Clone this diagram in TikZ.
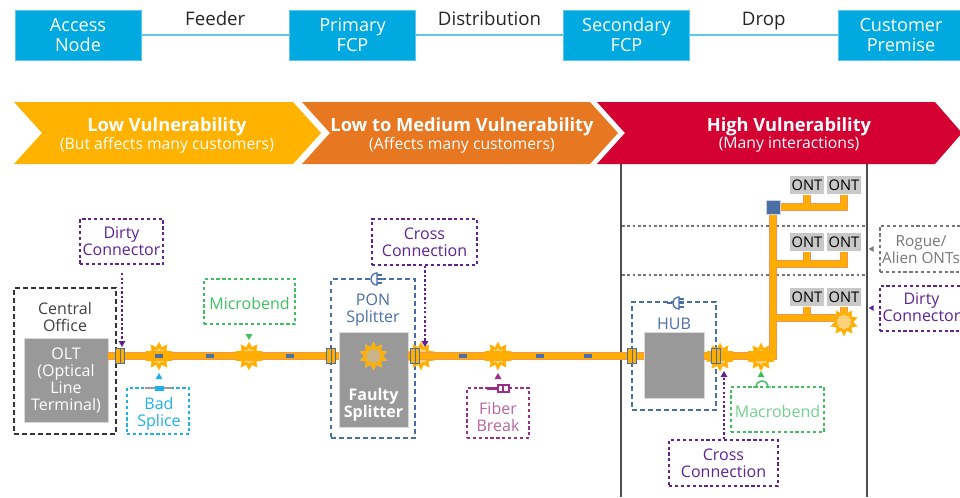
\documentclass[tikz,border=0pt]{standalone}
\usepackage{fontspec}
\setmainfont{Open Sans}
\usetikzlibrary{arrows.meta,shapes.geometric}
\definecolor{nodeblue}{HTML}{00A9E0}
\definecolor{linkblue}{HTML}{5CC6EE}
\definecolor{lowyellow}{HTML}{FFB200}
\definecolor{midorange}{HTML}{E87722}
\definecolor{highred}{HTML}{D50032}
\definecolor{fibreedge}{HTML}{F2945A}
\definecolor{fibrecore}{HTML}{FFAE00}
\definecolor{burstcore}{HTML}{FBD27A}
\definecolor{portblue}{HTML}{4A6FA5}
\definecolor{boxgrey}{HTML}{999999}
\definecolor{ontgrey}{HTML}{C8C8C8}
\definecolor{dirtypurple}{HTML}{5E2390}
\definecolor{greenbox}{HTML}{3FBF62}
\definecolor{lightgreen}{HTML}{74D08F}
\definecolor{spliceblue}{HTML}{1FB0E6}
\definecolor{breakpink}{HTML}{9B2F85}
\definecolor{breaktext}{HTML}{B565A0}
\definecolor{roguegrey}{HTML}{777777}
\newcommand{\bodyfont}{\fontsize{12}{12.75}\selectfont}
\tikzset{
	accessbox/.style={rectangle,fill=nodeblue,draw=linkblue,line width=.5pt,text=white,align=center,minimum width=94.5pt,minimum height=37.5pt,inner sep=0pt,font=\fontsize{13.6}{15}\selectfont},
	linkline/.style={linkblue,line width=1.4pt},
	linklabel/.style={midway,above=3.3pt,text height=10pt,text depth=3pt,inner sep=0pt,font=\fontsize{14}{15}\selectfont,text=black!85},
	headbig/.style={text=white,font=\fontsize{13.7}{15}\selectfont\bfseries,inner sep=0pt},
	headsmall/.style={text=white,font=\fontsize{11.8}{13}\selectfont,inner sep=0pt},
	faultbox/.style={rectangle,draw=#1,text=#1,dash pattern=on 2.4pt off 2pt,line width=1.1pt,align=center,inner sep=0pt,font=\bodyfont},
	groupbox/.style={rectangle,draw=#1,dash pattern=on 3.5pt off 2.5pt,line width=1.3pt,inner sep=0pt},
	greybox/.style={rectangle,fill=boxgrey,draw=black!15,line width=.4pt,text=white,align=center,inner sep=0pt,font=\bodyfont},
	plaintext/.style={text=#1,align=center,font=\bodyfont,inner sep=0pt},
	ontbox/.style={rectangle,fill=ontgrey,text=black,minimum width=26pt,minimum height=14pt,inner sep=0pt,font=\fontsize{11}{12}\selectfont},
	burst/.style={star,star points=10,star point ratio=1.55,fill=fibrecore,draw=fibrecore!80!white,line width=.3pt,minimum size=21pt,inner sep=0pt},
	burstin/.style={star,star points=10,star point ratio=1.3,fill=burstcore,minimum size=12pt,inner sep=0pt},
	burstbar/.style={rectangle,fill=fibrecore,minimum width=20pt,minimum height=7pt,inner sep=0pt},
	spotport/.style={rectangle,fill=portblue,minimum width=5.5pt,minimum height=3.5pt,inner sep=0pt},
	connport/.style={rectangle,fill=fibrecore,draw=portblue,line width=.8pt,minimum width=6.5pt,minimum height=11pt,inner sep=0pt,
		path picture={\draw[portblue,line width=.6pt] (path picture bounding box.north) -- (path picture bounding box.south);}},
	tipdown/.style={regular polygon,regular polygon sides=3,shape border rotate=180,fill=#1,minimum size=6pt,inner sep=0pt},
	tipup/.style={regular polygon,regular polygon sides=3,fill=#1,minimum size=6pt,inner sep=0pt},
	tipleft/.style={regular polygon,regular polygon sides=3,shape border rotate=90,fill=#1,minimum size=5pt,inner sep=0pt},
	dotline/.style={#1,dash pattern=on 1.8pt off 1.6pt,line width=1pt},
	plug/.pic={
		\draw[portblue,line width=1pt] (-9,0) -- (-4,0);
		\draw[portblue,line width=1pt,fill=white] (3,6) arc (90:270:6) -- cycle;
		\draw[portblue,line width=1pt] (3,-4) -- (8,-4) (3,0) -- (8,0) (3,4) -- (8,4);
	}
}
\begin{document}
\begin{tikzpicture}[x=.75pt,y=-.75pt]
	\useasboundingbox (0,0) rectangle (960,497);
	\clip (0,0) rectangle (960,497);

	% top row
	\foreach \name/\x/\txt in {access/78/Access\\Node,primary/352.5/Primary\\FCP,secondary/626.5/Secondary\\FCP,customer/901/Customer\\Premise}{
		\node[accessbox] (\name) at (\x,35) {\txt};
	}
	\draw[linkline] (access) -- node[linklabel] {Feeder} (primary);
	\draw[linkline] (primary) -- node[linklabel] {Distribution} (secondary);
	\draw[linkline] (secondary) -- node[linklabel] {Drop} (customer);

	% vulnerability bands
	\fill[lowyellow] (14,102) -- (293,102) -- (321,133) -- (293,164) -- (14,164) -- (42,133) -- cycle;
	\fill[midorange] (302,102) -- (590,102) -- (618,133) -- (590,164) -- (302,164) -- (330,133) -- cycle;
	\fill[highred] (597,102) -- (935,102) -- (962,133) -- (935,164) -- (597,164) -- (625,133) -- cycle;
	\node[headbig] (lowhead) at (167,127) {Low Vulnerability};
	\node[headsmall] (lowsub) at (167,145) {(But affects many customers)};
	\node[headbig] (midhead) at (462,127) {Low to Medium Vulnerability};
	\node[headsmall] (midsub) at (462,145) {(Affects many customers)};
	\node[headbig] (highhead) at (789,127) {High Vulnerability};
	\node[headsmall] (highsub) at (789,145) {(Many interactions)};

	% drop zone
	\draw[black!70,line width=1.1pt] (621,164) -- (621,497);
	\draw[black!70,line width=1.1pt] (867,164) -- (867,497);
	\draw[black!55,dash pattern=on 2pt off 2pt,line width=.9pt] (622,226) -- (865,226);
	\draw[black!55,dash pattern=on 2pt off 2pt,line width=.9pt] (622,275) -- (865,275);

	% boxes
	\node[groupbox=black!80,minimum width=76.5pt,minimum height=109.5pt] (office) at (65,361) {};
	\node[plaintext=black!75] (officetxt) at (65,316.5) {Central\\Office};
	\node[greybox,minimum width=63pt,minimum height=63pt] (olt) at (66,380) {OLT\\(Optical\\Line\\Terminal)};
	\node[groupbox=portblue,minimum width=63pt,minimum height=119pt] (pon) at (373,358.5) {};
	\node[plaintext=portblue] (pontxt) at (373,310) {PON\\Splitter};
	\node[greybox,minimum width=52pt,minimum height=71pt] (splitter) at (373.5,379.5) {};
	\node[text=white,align=center,font=\bodyfont\bfseries,inner sep=0pt] (faulty) at (373.5,404.5) {Faulty\\Splitter};
	\node[groupbox=portblue,minimum width=63pt,minimum height=81pt] (hubbox) at (674,356) {};
	\node[plaintext=portblue] (hubtxt) at (674,324) {HUB};
	\node[greybox,minimum width=45pt,minimum height=49.5pt] (hub) at (674,365) {};

	% bursts under the fibre
	\foreach \x/\y in {159/356,249/356,421/356,498/356,720/357,761/357}{
		\node[burst] (burst\x) at (\x,\y) {};
		\node[burstin] at (\x,\y) {};
	}

	\coordinate (level) at (0,356);
	\coordinate (corner) at (773,356);
	\node[rectangle,fill=portblue,minimum size=10.5pt,inner sep=0pt] (tap) at (773,207) {};
	\coordinate (tapb) at (773,264);
	\coordinate (tapc) at (773,318);
	\foreach \row/\y in {a/185,b/242,c/297}{
		\node[ontbox] (ont\row1) at (807,\y) {ONT};
		\node[ontbox] (ont\row2) at (844,\y) {ONT};
	}

	% fibre, edge then core
	\foreach \w/\c in {6.6pt/fibreedge,4.4pt/fibrecore}{
		\draw[\c,line width=\w] (olt.east |- level) -- (splitter.west |- level);
		\draw[\c,line width=\w] (splitter.east |- level) -- (hub.west |- level);
		\draw[\c,line width=\w,line join=miter] (hub.east |- level) -- (corner) -- (tap.center);
		\draw[\c,line width=\w,line join=miter] (tap.center) -| (onta2.south);
		\draw[\c,line width=\w] (onta1.south) -- (onta1.south |- tap);
		\draw[\c,line width=\w,line join=miter] (tapb) -| (ontb2.south);
		\draw[\c,line width=\w] (ontb1.south) -- (ontb1.south |- tapb);
		\draw[\c,line width=\w] (tapc) -| (ontc2.south);
		\draw[\c,line width=\w] (ontc1.south) -- (ontc1.south |- tapc);
	}
	\node[rectangle,fill=portblue,draw=white!70!portblue,line width=.3pt,minimum size=10.5pt,inner sep=0pt] at (tap) {};

	\foreach \x in {159,249,498,720,761}{
		\node[burstbar] at (\x,356) {};
	}
	\node[burst] (burstont) at (844,322) {};
	\node[burstin] at (844,322) {};
	\node[burst] (burstsplit) at (373.5,356) {};
	\node[burstin,fill=burstcore!50!boxgrey] at (373.5,356) {};

	\foreach \x in {159,210,290,463,540,588}{
		\node[spotport] at (\x,356) {};
	}
	\foreach \x/\nm in {120/conna,331/connb,415/connc,632/connd,716/conne}{
		\node[connport] (\nm) at (\x,356) {};
	}

	% fault labels
	\node[faultbox=dirtypurple,minimum width=62pt,minimum height=34pt] (dirtya) at (121.5,241.5) {Dirty\\Connector};
	\node[faultbox=greenbox,text height=12pt,minimum width=68pt,minimum height=34pt] (micro) at (249.5,301.5) {Microbend};
	\node[faultbox=spliceblue,minimum width=46.5pt,minimum height=34.5pt] (splice) at (158,411) {};
	\node[plaintext=spliceblue] (splicetxt) at (159,413.5) {Bad\\Splice};
	\node[faultbox=dirtypurple,minimum width=78.5pt,minimum height=34.5pt] (crossa) at (424.5,242) {Cross\\Connection};
	\node[faultbox=breakpink,minimum width=46.5pt,minimum height=37.5pt] (fibrebreak) at (498,413) {};
	\node[plaintext=breaktext] (breaktxt) at (498,417) {Fiber\\Break};
	\node[faultbox=greenbox,text=lightgreen,text height=12pt,minimum width=70pt,minimum height=34pt] (macro) at (777.5,409.5) {Macrobend};
	\node[faultbox=dirtypurple,minimum width=81.5pt,minimum height=34.5pt] (crossb) at (723.5,463) {Cross\\Connection};
	\node[faultbox=roguegrey,minimum width=90pt,minimum height=34.5pt] (rogue) at (940,249) {};
	\node[plaintext=roguegrey,font=\fontsize{11.5}{12.75}\selectfont] (roguetxt) at (921,250) {Rogue/\\Alien ONTs};
	\node[faultbox=dirtypurple,minimum width=90pt,minimum height=34pt] (dirtyb) at (940,308.5) {};
	\node[plaintext=dirtypurple] (dirtybtxt) at (921.5,307.5) {Dirty\\Connector};

	% pointers
	\node[tipdown=dirtypurple] (tipa) at (122,343) {};
	\draw[dotline=dirtypurple] (122,273) -- (tipa);
	\node[tipdown=dirtypurple] (tipb) at (425,343) {};
	\draw[dotline=dirtypurple] (crossa.south -| tipb) -- (tipb);
	\node[tipup=dirtypurple] (tipc) at (724,375) {};
	\draw[dotline=dirtypurple] (crossb.north -| tipc) -- (tipc);
	\node[tipdown=greenbox] (tipd) at (249,336) {};
	\node[tipup=spliceblue] (tipe) at (159,377) {};
	\node[tipup=breakpink] (tipf) at (498,377) {};
	\node[tipup=greenbox] (tipg) at (761,375) {};
	\node[tipleft=roguegrey] (tiph) at (872,249) {};
	\node[tipleft=dirtypurple] (tipi) at (872,308) {};

	% small icons on the boxes
	\pic at (374,279) {plug};
	\pic at (676,303) {plug};
	\draw[boxgrey,line width=1.1pt] (145,388) -- (172,388);
	\fill[spliceblue] (154.5,385.5) rectangle (163.5,390.5);
	\draw[greenbox,line width=1.1pt] (753,387) -- (756,387) arc (180:360:6) -- (771,387);
	\draw[breakpink,line width=1pt,fill=white] (498,385) rectangle (509,392);
	\draw[breakpink,line width=1.6pt] (487,388.5) -- (498,388.5);
	\draw[breakpink,line width=.8pt] (503,385) -- (503,392);
\end{tikzpicture}
\end{document}
